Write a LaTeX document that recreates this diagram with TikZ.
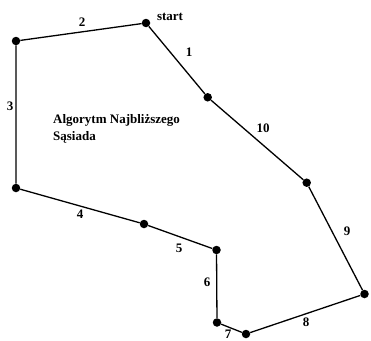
\documentclass[tikz,border=0pt]{standalone}
\usepackage{fontspec}
\setmainfont{Liberation Serif}
\begin{document}
\begin{tikzpicture}[x=1pt,y=-1pt,
  pt/.style={circle,fill=black,inner sep=0pt,minimum size=8.5pt},
  edge/.style={line width=1.3pt},
  lbl/.style={inner sep=0pt,font=\fontsize{13}{15}\selectfont\bfseries}]
\useasboundingbox (0,0) rectangle (371,340);
\node[pt] (s)  at (146,23) {};
\node[pt] (a)  at (16,41) {};
\node[pt] (b)  at (16,188) {};
\node[pt] (c)  at (144,224) {};
\node[pt] (d)  at (216.5,250) {};
\node[pt] (e)  at (217,322.5) {};
\node[pt] (f)  at (246,334) {};
\node[pt] (g)  at (364.5,294) {};
\node[pt] (h)  at (306.7,182.7) {};
\node[pt] (k)  at (207.7,97.3) {};
\draw[edge] (s) -- (k) -- (h) -- (g) -- (f) -- (e) -- (d) -- (c) -- (b) -- (a) -- (s);
\node[lbl] (ls) at (170,17) {start};
\node[lbl] (l1) at (189,52) {1};
\node[lbl] (l2) at (82,22) {2};
\node[lbl] (l3) at (10,106) {3};
\node[lbl] (l4) at (80,214) {4};
\node[lbl] (l5) at (179,248) {5};
\node[lbl] (l6) at (207,282) {6};
\node[lbl] (l7) at (228,334) {7};
\node[lbl] (l8) at (306,322) {8};
\node[lbl] (l9) at (347,231) {9};
\node[lbl] (l10) at (263,128) {10};
\node[lbl,anchor=west,align=left,font=\fontsize{13}{17}\selectfont\bfseries] (t) at (53,128.5) {Algorytm Najbliższego\\Sąsiada};
\end{tikzpicture}
\end{document}
